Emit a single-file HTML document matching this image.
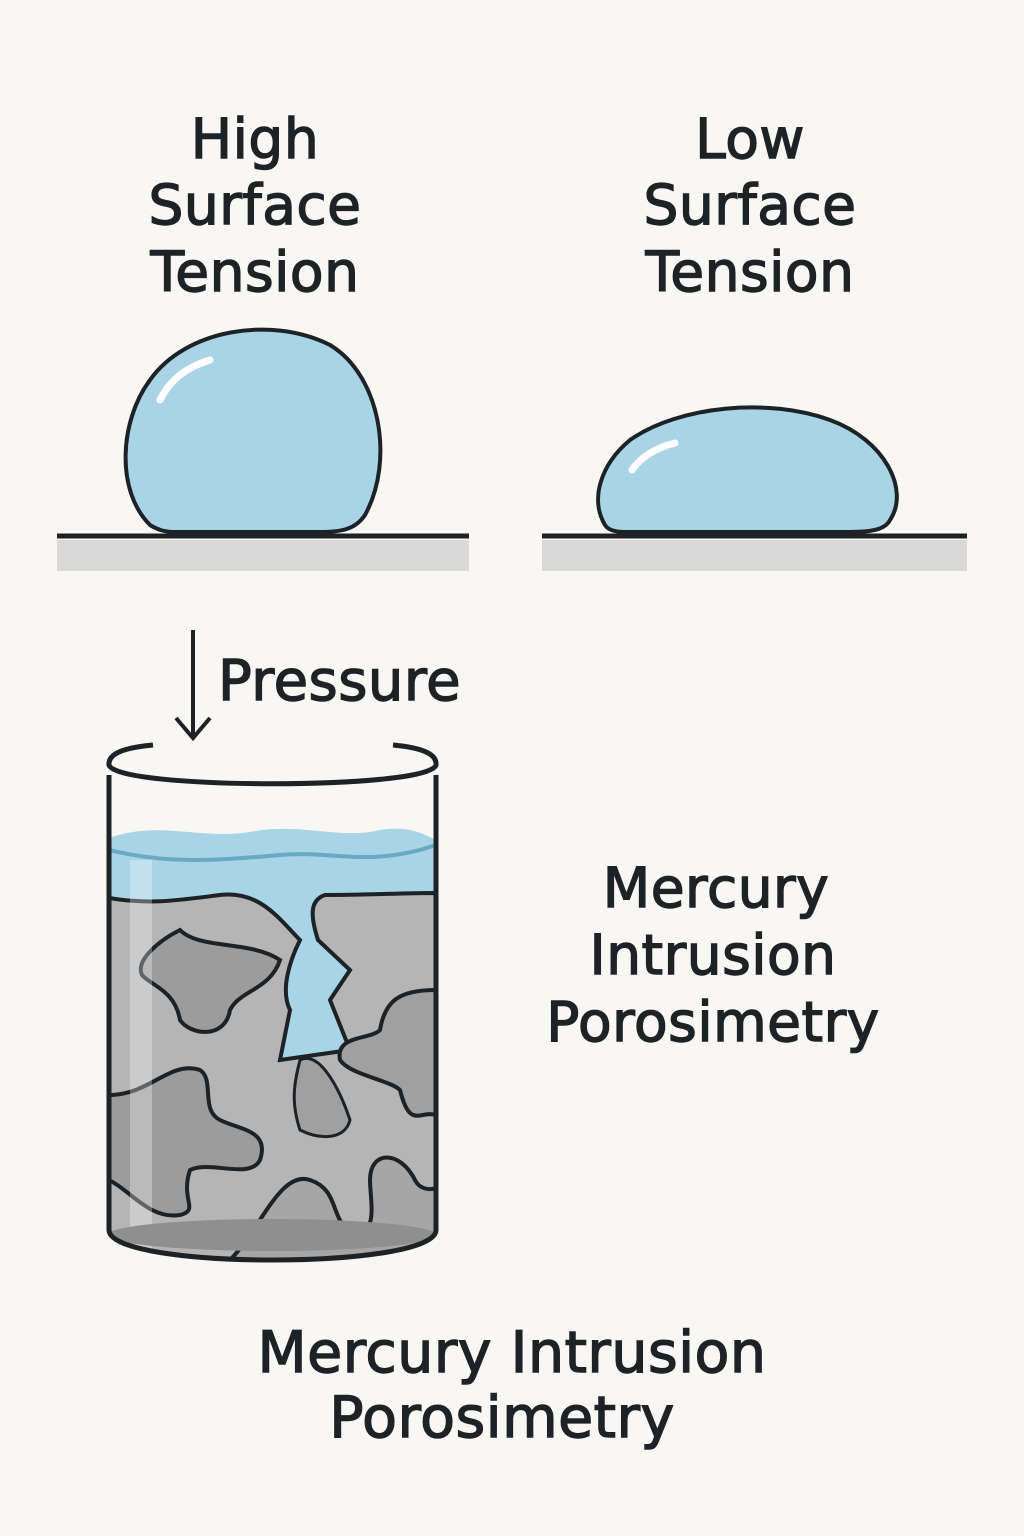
<!DOCTYPE html>
<html><head><meta charset="utf-8"><style>
html,body{margin:0;padding:0;background:#f8f7f4;}
svg{display:block}
text{font-family:"DejaVu Sans","Liberation Sans",sans-serif;fill:#1c2226;stroke:#1c2226;stroke-width:1.4;letter-spacing:0.5px}
</style></head><body>
<svg width="1024" height="1536" viewBox="0 0 1024 1536">
<rect width="1024" height="1536" fill="#f8f7f4"/>
<g font-size="55" text-anchor="middle">
<text x="255" y="158">High</text><text x="255" y="224">Surface</text><text x="255" y="291">Tension</text>
<text x="750" y="158">Low</text><text x="750" y="224">Surface</text><text x="750" y="291">Tension</text>
<text x="716" y="907">Mercury</text><text x="713" y="974">Intrusion</text><text x="713" y="1041">Porosimetry</text>
<text x="512" y="1372" font-size="57">Mercury Intrusion</text><text x="502" y="1437" font-size="57">Porosimetry</text>
</g>
<text x="218" y="700" font-size="56">Pressure</text>
<rect x="57" y="540" width="412" height="31" fill="#d9d9d9"/>
<rect x="542" y="540" width="425" height="31" fill="#d9d9d9"/>
<path d="M150 525 C115 490 120 420 150 380 C185 330 270 315 330 345 C380 375 395 460 365 515 C355 530 340 532 320 532 L175 532 C165 532 158 530 150 525Z" fill="#a8d4e6" stroke="#1c2226" stroke-width="4"/>
<path d="M160 400 C170 380 185 368 210 360" stroke="#fff" stroke-width="7" fill="none" stroke-linecap="round"/>
<path d="M605 525 C590 500 600 465 630 440 C680 405 770 398 830 420 C885 440 910 490 890 520 C885 530 870 532 850 532 L625 532 C615 532 608 530 605 525Z" fill="#a8d4e6" stroke="#1c2226" stroke-width="4"/>
<path d="M632 470 C640 458 655 448 675 443" stroke="#fff" stroke-width="7" fill="none" stroke-linecap="round"/>
<line x1="57" y1="536" x2="469" y2="536" stroke="#1c2226" stroke-width="5"/>
<line x1="542" y1="536" x2="967" y2="536" stroke="#1c2226" stroke-width="5"/>
<line x1="193" y1="630" x2="193" y2="735" stroke="#1c2226" stroke-width="4"/>
<path d="M176 718 L193 738 L210 718" fill="none" stroke="#1c2226" stroke-width="4"/>
<clipPath id="c"><path d="M109 770 L436 770 L436 1230 C436 1270 109 1270 109 1230Z"/></clipPath>
<g clip-path="url(#c)">
<rect x="100" y="760" width="340" height="510" fill="#f8f7f4"/>
<path d="M109 838 C160 820 200 840 250 832 C300 822 340 840 380 830 C410 825 425 835 436 840 L436 1260 L109 1260Z" fill="#a8d4e6"/>
<path d="M109 850 C170 865 220 860 280 855 C330 850 370 868 436 845" fill="none" stroke="#6aa9c4" stroke-width="4"/>
<path d="M109 898 C150 905 180 900 220 895 C260 890 280 920 300 940 C290 960 280 990 290 1010 L280 1060 L350 1050 L330 1000 L350 970 L318 940 C310 915 310 900 325 895 C370 895 400 893 436 893 L436 1260 L109 1260Z" fill="#b5b5b5" stroke="#1c2226" stroke-width="4"/>
<path d="M180 930 C200 950 250 940 280 960 C270 990 240 990 230 1010 C225 1040 190 1035 180 1020 C175 990 150 985 142 975 C135 960 160 940 180 930Z" fill="#9c9c9c" stroke="#1c2226" stroke-width="4"/>
<path d="M436 990 C400 990 385 1000 380 1030 C370 1040 335 1035 340 1060 C350 1075 390 1080 400 1090 C410 1130 420 1110 436 1115Z" fill="#a0a0a0" stroke="#1c2226" stroke-width="4"/>
<path d="M109 1095 C150 1095 170 1060 200 1070 C215 1080 200 1110 220 1120 C240 1130 270 1130 260 1160 C250 1180 210 1160 190 1170 C180 1200 200 1210 180 1215 C150 1220 130 1190 109 1180Z" fill="#9c9c9c" stroke="#1c2226" stroke-width="4"/>
<path d="M300 1060 C320 1050 340 1090 350 1120 C345 1140 320 1140 300 1130 C290 1100 295 1080 300 1060Z" fill="#a0a0a0" stroke="#1c2226" stroke-width="3"/>
<path d="M230 1260 C260 1230 280 1170 310 1180 C340 1190 330 1220 350 1230 C380 1240 370 1200 370 1180 C370 1150 400 1150 415 1180 C420 1190 430 1190 436 1188 L436 1260Z" fill="#a6a6a6" stroke="#1c2226" stroke-width="4"/>
<rect x="130" y="860" width="22" height="400" fill="#fff" opacity="0.3"/>
<ellipse cx="272" cy="1235" rx="165" ry="16" fill="#8f8f8f"/>
</g>
<path d="M109 775 L109 1230 C109 1270 436 1270 436 1230 L436 775" fill="none" stroke="#1c2226" stroke-width="5"/>
<path d="M153 745 C120 748 108 755 109 765 C115 790 430 790 436 765 C437 755 425 748 393 745" fill="none" stroke="#1c2226" stroke-width="5"/>
</svg>
</body></html>
